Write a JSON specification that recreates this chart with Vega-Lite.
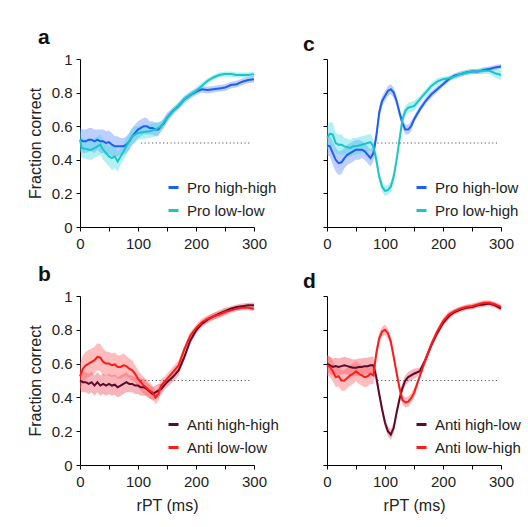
{
  "$schema": "https://vega.github.io/schema/vega-lite/v6.json",
  "padding": {"left": 27, "top": 27, "right": 5, "bottom": 5},
  "background": "white",
  "config": {
    "font": "Liberation Sans",
    "view": {"stroke": null},
    "axis": {"grid": false, "domainColor": "#000", "tickColor": "#000", "tickSize": 4, "labelOverlap": false, "labelFont": "Liberation Sans", "labelFontSize": 15, "labelColor": "#222", "titleFont": "Liberation Sans", "titleFontSize": 16, "titleFontWeight": "normal", "titleColor": "#222"},
    "axisX": {"labelPadding": 5, "titlePadding": 8},
    "axisY": {"labelPadding": 4, "titlePadding": 8},
    "legend": {"labelFont": "Liberation Sans", "labelFontSize": 15, "labelColor": "#222"},
    "title": {"font": "Liberation Sans", "fontSize": 21, "fontWeight": "bold", "color": "#111", "anchor": "start", "frame": "group"}
  },
  "datasets": {
    "curves": [
      {"p":"a","s":"Pro high-high","t":0,"y":0.52,"e":0.07},{"p":"a","s":"Pro high-high","t":5,"y":0.51,"e":0.07},{"p":"a","s":"Pro high-high","t":10,"y":0.51,"e":0.07},{"p":"a","s":"Pro high-high","t":15,"y":0.52,"e":0.07},{"p":"a","s":"Pro high-high","t":20,"y":0.52,"e":0.07},{"p":"a","s":"Pro high-high","t":25,"y":0.51,"e":0.07},{"p":"a","s":"Pro high-high","t":30,"y":0.52,"e":0.06},{"p":"a","s":"Pro high-high","t":35,"y":0.51,"e":0.07},{"p":"a","s":"Pro high-high","t":40,"y":0.51,"e":0.07},{"p":"a","s":"Pro high-high","t":45,"y":0.5,"e":0.07},{"p":"a","s":"Pro high-high","t":50,"y":0.505,"e":0.07},{"p":"a","s":"Pro high-high","t":55,"y":0.49,"e":0.07},{"p":"a","s":"Pro high-high","t":60,"y":0.48,"e":0.06},{"p":"a","s":"Pro high-high","t":65,"y":0.48,"e":0.06},{"p":"a","s":"Pro high-high","t":70,"y":0.48,"e":0.05},{"p":"a","s":"Pro high-high","t":75,"y":0.48,"e":0.05},{"p":"a","s":"Pro high-high","t":80,"y":0.49,"e":0.05},{"p":"a","s":"Pro high-high","t":85,"y":0.51,"e":0.05},{"p":"a","s":"Pro high-high","t":90,"y":0.54,"e":0.05},{"p":"a","s":"Pro high-high","t":95,"y":0.56,"e":0.05},{"p":"a","s":"Pro high-high","t":100,"y":0.58,"e":0.05},{"p":"a","s":"Pro high-high","t":105,"y":0.59,"e":0.05},{"p":"a","s":"Pro high-high","t":110,"y":0.6,"e":0.05},{"p":"a","s":"Pro high-high","t":115,"y":0.6,"e":0.05},{"p":"a","s":"Pro high-high","t":120,"y":0.59,"e":0.04},{"p":"a","s":"Pro high-high","t":125,"y":0.59,"e":0.04},{"p":"a","s":"Pro high-high","t":130,"y":0.58,"e":0.04},{"p":"a","s":"Pro high-high","t":135,"y":0.58,"e":0.04},{"p":"a","s":"Pro high-high","t":140,"y":0.6,"e":0.03},{"p":"a","s":"Pro high-high","t":145,"y":0.62,"e":0.03},{"p":"a","s":"Pro high-high","t":150,"y":0.65,"e":0.03},{"p":"a","s":"Pro high-high","t":160,"y":0.69,"e":0.02},{"p":"a","s":"Pro high-high","t":170,"y":0.72,"e":0.02},{"p":"a","s":"Pro high-high","t":180,"y":0.76,"e":0.02},{"p":"a","s":"Pro high-high","t":190,"y":0.785,"e":0.02},{"p":"a","s":"Pro high-high","t":200,"y":0.805,"e":0.02},{"p":"a","s":"Pro high-high","t":210,"y":0.82,"e":0.02},{"p":"a","s":"Pro high-high","t":220,"y":0.815,"e":0.02},{"p":"a","s":"Pro high-high","t":230,"y":0.82,"e":0.02},{"p":"a","s":"Pro high-high","t":240,"y":0.825,"e":0.02},{"p":"a","s":"Pro high-high","t":250,"y":0.83,"e":0.02},{"p":"a","s":"Pro high-high","t":260,"y":0.845,"e":0.02},{"p":"a","s":"Pro high-high","t":270,"y":0.85,"e":0.02},{"p":"a","s":"Pro high-high","t":280,"y":0.865,"e":0.02},{"p":"a","s":"Pro high-high","t":290,"y":0.875,"e":0.02},{"p":"a","s":"Pro high-high","t":300,"y":0.88,"e":0.02},

      {"p":"a","s":"Pro low-low","t":0,"y":0.52,"e":0.06},{"p":"a","s":"Pro low-low","t":3,"y":0.47,"e":0.06},{"p":"a","s":"Pro low-low","t":10,"y":0.465,"e":0.06},{"p":"a","s":"Pro low-low","t":15,"y":0.46,"e":0.06},{"p":"a","s":"Pro low-low","t":20,"y":0.46,"e":0.06},{"p":"a","s":"Pro low-low","t":25,"y":0.47,"e":0.06},{"p":"a","s":"Pro low-low","t":30,"y":0.48,"e":0.06},{"p":"a","s":"Pro low-low","t":35,"y":0.49,"e":0.06},{"p":"a","s":"Pro low-low","t":40,"y":0.46,"e":0.06},{"p":"a","s":"Pro low-low","t":45,"y":0.44,"e":0.06},{"p":"a","s":"Pro low-low","t":50,"y":0.42,"e":0.06},{"p":"a","s":"Pro low-low","t":55,"y":0.41,"e":0.07},{"p":"a","s":"Pro low-low","t":60,"y":0.42,"e":0.07},{"p":"a","s":"Pro low-low","t":65,"y":0.39,"e":0.06},{"p":"a","s":"Pro low-low","t":70,"y":0.42,"e":0.05},{"p":"a","s":"Pro low-low","t":75,"y":0.45,"e":0.05},{"p":"a","s":"Pro low-low","t":80,"y":0.48,"e":0.05},{"p":"a","s":"Pro low-low","t":85,"y":0.51,"e":0.05},{"p":"a","s":"Pro low-low","t":90,"y":0.54,"e":0.05},{"p":"a","s":"Pro low-low","t":95,"y":0.55,"e":0.05},{"p":"a","s":"Pro low-low","t":100,"y":0.56,"e":0.04},{"p":"a","s":"Pro low-low","t":110,"y":0.565,"e":0.04},{"p":"a","s":"Pro low-low","t":120,"y":0.57,"e":0.04},{"p":"a","s":"Pro low-low","t":130,"y":0.58,"e":0.04},{"p":"a","s":"Pro low-low","t":140,"y":0.6,"e":0.03},{"p":"a","s":"Pro low-low","t":150,"y":0.65,"e":0.02},{"p":"a","s":"Pro low-low","t":160,"y":0.69,"e":0.02},{"p":"a","s":"Pro low-low","t":170,"y":0.725,"e":0.02},{"p":"a","s":"Pro low-low","t":180,"y":0.76,"e":0.02},{"p":"a","s":"Pro low-low","t":190,"y":0.785,"e":0.02},{"p":"a","s":"Pro low-low","t":200,"y":0.81,"e":0.02},{"p":"a","s":"Pro low-low","t":210,"y":0.84,"e":0.02},{"p":"a","s":"Pro low-low","t":220,"y":0.87,"e":0.015},{"p":"a","s":"Pro low-low","t":230,"y":0.89,"e":0.015},{"p":"a","s":"Pro low-low","t":240,"y":0.905,"e":0.015},{"p":"a","s":"Pro low-low","t":250,"y":0.91,"e":0.015},{"p":"a","s":"Pro low-low","t":260,"y":0.91,"e":0.015},{"p":"a","s":"Pro low-low","t":270,"y":0.905,"e":0.015},{"p":"a","s":"Pro low-low","t":280,"y":0.905,"e":0.015},{"p":"a","s":"Pro low-low","t":290,"y":0.905,"e":0.015},{"p":"a","s":"Pro low-low","t":300,"y":0.91,"e":0.015},

      {"p":"c","s":"Pro high-low","t":0,"y":0.485,"e":0.06},{"p":"c","s":"Pro high-low","t":5,"y":0.48,"e":0.06},{"p":"c","s":"Pro high-low","t":10,"y":0.44,"e":0.07},{"p":"c","s":"Pro high-low","t":15,"y":0.4,"e":0.07},{"p":"c","s":"Pro high-low","t":20,"y":0.38,"e":0.07},{"p":"c","s":"Pro high-low","t":25,"y":0.385,"e":0.07},{"p":"c","s":"Pro high-low","t":30,"y":0.41,"e":0.06},{"p":"c","s":"Pro high-low","t":35,"y":0.43,"e":0.06},{"p":"c","s":"Pro high-low","t":40,"y":0.44,"e":0.06},{"p":"c","s":"Pro high-low","t":45,"y":0.45,"e":0.06},{"p":"c","s":"Pro high-low","t":50,"y":0.46,"e":0.06},{"p":"c","s":"Pro high-low","t":55,"y":0.46,"e":0.06},{"p":"c","s":"Pro high-low","t":60,"y":0.46,"e":0.05},{"p":"c","s":"Pro high-low","t":65,"y":0.45,"e":0.05},{"p":"c","s":"Pro high-low","t":70,"y":0.43,"e":0.05},{"p":"c","s":"Pro high-low","t":75,"y":0.41,"e":0.05},{"p":"c","s":"Pro high-low","t":80,"y":0.44,"e":0.05},{"p":"c","s":"Pro high-low","t":85,"y":0.54,"e":0.04},{"p":"c","s":"Pro high-low","t":90,"y":0.68,"e":0.04},{"p":"c","s":"Pro high-low","t":95,"y":0.75,"e":0.03},{"p":"c","s":"Pro high-low","t":100,"y":0.78,"e":0.03},{"p":"c","s":"Pro high-low","t":105,"y":0.81,"e":0.03},{"p":"c","s":"Pro high-low","t":110,"y":0.82,"e":0.03},{"p":"c","s":"Pro high-low","t":115,"y":0.8,"e":0.03},{"p":"c","s":"Pro high-low","t":120,"y":0.75,"e":0.03},{"p":"c","s":"Pro high-low","t":125,"y":0.68,"e":0.03},{"p":"c","s":"Pro high-low","t":130,"y":0.62,"e":0.03},{"p":"c","s":"Pro high-low","t":135,"y":0.58,"e":0.03},{"p":"c","s":"Pro high-low","t":140,"y":0.58,"e":0.03},{"p":"c","s":"Pro high-low","t":145,"y":0.6,"e":0.03},{"p":"c","s":"Pro high-low","t":150,"y":0.64,"e":0.02},{"p":"c","s":"Pro high-low","t":160,"y":0.7,"e":0.02},{"p":"c","s":"Pro high-low","t":170,"y":0.75,"e":0.02},{"p":"c","s":"Pro high-low","t":180,"y":0.79,"e":0.02},{"p":"c","s":"Pro high-low","t":190,"y":0.82,"e":0.02},{"p":"c","s":"Pro high-low","t":200,"y":0.85,"e":0.015},{"p":"c","s":"Pro high-low","t":210,"y":0.88,"e":0.015},{"p":"c","s":"Pro high-low","t":220,"y":0.9,"e":0.015},{"p":"c","s":"Pro high-low","t":230,"y":0.91,"e":0.015},{"p":"c","s":"Pro high-low","t":240,"y":0.92,"e":0.015},{"p":"c","s":"Pro high-low","t":250,"y":0.925,"e":0.015},{"p":"c","s":"Pro high-low","t":260,"y":0.925,"e":0.015},{"p":"c","s":"Pro high-low","t":270,"y":0.935,"e":0.015},{"p":"c","s":"Pro high-low","t":280,"y":0.94,"e":0.015},{"p":"c","s":"Pro high-low","t":290,"y":0.95,"e":0.015},{"p":"c","s":"Pro high-low","t":300,"y":0.955,"e":0.015},

      {"p":"c","s":"Pro low-high","t":0,"y":0.53,"e":0.07},{"p":"c","s":"Pro low-high","t":5,"y":0.555,"e":0.07},{"p":"c","s":"Pro low-high","t":10,"y":0.55,"e":0.07},{"p":"c","s":"Pro low-high","t":15,"y":0.5,"e":0.06},{"p":"c","s":"Pro low-high","t":20,"y":0.49,"e":0.06},{"p":"c","s":"Pro low-high","t":25,"y":0.49,"e":0.06},{"p":"c","s":"Pro low-high","t":30,"y":0.48,"e":0.05},{"p":"c","s":"Pro low-high","t":35,"y":0.475,"e":0.05},{"p":"c","s":"Pro low-high","t":40,"y":0.47,"e":0.05},{"p":"c","s":"Pro low-high","t":45,"y":0.48,"e":0.05},{"p":"c","s":"Pro low-high","t":50,"y":0.48,"e":0.05},{"p":"c","s":"Pro low-high","t":55,"y":0.485,"e":0.05},{"p":"c","s":"Pro low-high","t":60,"y":0.49,"e":0.05},{"p":"c","s":"Pro low-high","t":65,"y":0.495,"e":0.05},{"p":"c","s":"Pro low-high","t":70,"y":0.5,"e":0.05},{"p":"c","s":"Pro low-high","t":75,"y":0.505,"e":0.05},{"p":"c","s":"Pro low-high","t":80,"y":0.48,"e":0.04},{"p":"c","s":"Pro low-high","t":85,"y":0.4,"e":0.04},{"p":"c","s":"Pro low-high","t":90,"y":0.3,"e":0.03},{"p":"c","s":"Pro low-high","t":95,"y":0.24,"e":0.03},{"p":"c","s":"Pro low-high","t":100,"y":0.215,"e":0.03},{"p":"c","s":"Pro low-high","t":105,"y":0.22,"e":0.03},{"p":"c","s":"Pro low-high","t":110,"y":0.24,"e":0.03},{"p":"c","s":"Pro low-high","t":115,"y":0.3,"e":0.03},{"p":"c","s":"Pro low-high","t":120,"y":0.4,"e":0.03},{"p":"c","s":"Pro low-high","t":125,"y":0.52,"e":0.03},{"p":"c","s":"Pro low-high","t":130,"y":0.64,"e":0.03},{"p":"c","s":"Pro low-high","t":135,"y":0.69,"e":0.03},{"p":"c","s":"Pro low-high","t":140,"y":0.71,"e":0.03},{"p":"c","s":"Pro low-high","t":145,"y":0.715,"e":0.03},{"p":"c","s":"Pro low-high","t":150,"y":0.72,"e":0.03},{"p":"c","s":"Pro low-high","t":160,"y":0.76,"e":0.02},{"p":"c","s":"Pro low-high","t":170,"y":0.8,"e":0.02},{"p":"c","s":"Pro low-high","t":180,"y":0.84,"e":0.02},{"p":"c","s":"Pro low-high","t":190,"y":0.865,"e":0.02},{"p":"c","s":"Pro low-high","t":200,"y":0.88,"e":0.015},{"p":"c","s":"Pro low-high","t":210,"y":0.885,"e":0.015},{"p":"c","s":"Pro low-high","t":220,"y":0.895,"e":0.015},{"p":"c","s":"Pro low-high","t":230,"y":0.91,"e":0.015},{"p":"c","s":"Pro low-high","t":240,"y":0.92,"e":0.015},{"p":"c","s":"Pro low-high","t":250,"y":0.925,"e":0.015},{"p":"c","s":"Pro low-high","t":260,"y":0.925,"e":0.015},{"p":"c","s":"Pro low-high","t":270,"y":0.93,"e":0.02},{"p":"c","s":"Pro low-high","t":280,"y":0.93,"e":0.02},{"p":"c","s":"Pro low-high","t":290,"y":0.915,"e":0.025},{"p":"c","s":"Pro low-high","t":300,"y":0.905,"e":0.03},

      {"p":"b","s":"Anti high-high","t":0,"y":0.5,"e":0.06},{"p":"b","s":"Anti high-high","t":5,"y":0.49,"e":0.06},{"p":"b","s":"Anti high-high","t":10,"y":0.49,"e":0.06},{"p":"b","s":"Anti high-high","t":15,"y":0.48,"e":0.06},{"p":"b","s":"Anti high-high","t":20,"y":0.49,"e":0.06},{"p":"b","s":"Anti high-high","t":25,"y":0.47,"e":0.06},{"p":"b","s":"Anti high-high","t":30,"y":0.49,"e":0.06},{"p":"b","s":"Anti high-high","t":35,"y":0.47,"e":0.06},{"p":"b","s":"Anti high-high","t":40,"y":0.48,"e":0.06},{"p":"b","s":"Anti high-high","t":45,"y":0.47,"e":0.06},{"p":"b","s":"Anti high-high","t":50,"y":0.48,"e":0.06},{"p":"b","s":"Anti high-high","t":55,"y":0.47,"e":0.06},{"p":"b","s":"Anti high-high","t":60,"y":0.475,"e":0.06},{"p":"b","s":"Anti high-high","t":65,"y":0.46,"e":0.06},{"p":"b","s":"Anti high-high","t":70,"y":0.47,"e":0.06},{"p":"b","s":"Anti high-high","t":75,"y":0.48,"e":0.06},{"p":"b","s":"Anti high-high","t":80,"y":0.49,"e":0.06},{"p":"b","s":"Anti high-high","t":85,"y":0.48,"e":0.05},{"p":"b","s":"Anti high-high","t":90,"y":0.48,"e":0.05},{"p":"b","s":"Anti high-high","t":95,"y":0.47,"e":0.05},{"p":"b","s":"Anti high-high","t":100,"y":0.47,"e":0.05},{"p":"b","s":"Anti high-high","t":105,"y":0.46,"e":0.05},{"p":"b","s":"Anti high-high","t":110,"y":0.46,"e":0.05},{"p":"b","s":"Anti high-high","t":115,"y":0.45,"e":0.04},{"p":"b","s":"Anti high-high","t":120,"y":0.435,"e":0.04},{"p":"b","s":"Anti high-high","t":125,"y":0.42,"e":0.04},{"p":"b","s":"Anti high-high","t":130,"y":0.43,"e":0.04},{"p":"b","s":"Anti high-high","t":135,"y":0.44,"e":0.04},{"p":"b","s":"Anti high-high","t":140,"y":0.45,"e":0.03},{"p":"b","s":"Anti high-high","t":150,"y":0.49,"e":0.03},{"p":"b","s":"Anti high-high","t":160,"y":0.52,"e":0.03},{"p":"b","s":"Anti high-high","t":170,"y":0.56,"e":0.03},{"p":"b","s":"Anti high-high","t":180,"y":0.64,"e":0.02},{"p":"b","s":"Anti high-high","t":190,"y":0.735,"e":0.02},{"p":"b","s":"Anti high-high","t":200,"y":0.795,"e":0.02},{"p":"b","s":"Anti high-high","t":210,"y":0.835,"e":0.02},{"p":"b","s":"Anti high-high","t":220,"y":0.86,"e":0.02},{"p":"b","s":"Anti high-high","t":230,"y":0.88,"e":0.02},{"p":"b","s":"Anti high-high","t":240,"y":0.895,"e":0.02},{"p":"b","s":"Anti high-high","t":250,"y":0.91,"e":0.02},{"p":"b","s":"Anti high-high","t":260,"y":0.925,"e":0.015},{"p":"b","s":"Anti high-high","t":270,"y":0.935,"e":0.015},{"p":"b","s":"Anti high-high","t":280,"y":0.94,"e":0.015},{"p":"b","s":"Anti high-high","t":290,"y":0.945,"e":0.015},{"p":"b","s":"Anti high-high","t":300,"y":0.945,"e":0.015},

      {"p":"b","s":"Anti low-low","t":0,"y":0.525,"e":0.08},{"p":"b","s":"Anti low-low","t":5,"y":0.57,"e":0.08},{"p":"b","s":"Anti low-low","t":10,"y":0.59,"e":0.08},{"p":"b","s":"Anti low-low","t":15,"y":0.6,"e":0.08},{"p":"b","s":"Anti low-low","t":20,"y":0.61,"e":0.08},{"p":"b","s":"Anti low-low","t":25,"y":0.62,"e":0.08},{"p":"b","s":"Anti low-low","t":30,"y":0.64,"e":0.08},{"p":"b","s":"Anti low-low","t":35,"y":0.635,"e":0.08},{"p":"b","s":"Anti low-low","t":40,"y":0.61,"e":0.08},{"p":"b","s":"Anti low-low","t":45,"y":0.6,"e":0.07},{"p":"b","s":"Anti low-low","t":50,"y":0.6,"e":0.07},{"p":"b","s":"Anti low-low","t":55,"y":0.59,"e":0.07},{"p":"b","s":"Anti low-low","t":60,"y":0.595,"e":0.07},{"p":"b","s":"Anti low-low","t":65,"y":0.58,"e":0.07},{"p":"b","s":"Anti low-low","t":70,"y":0.58,"e":0.07},{"p":"b","s":"Anti low-low","t":75,"y":0.59,"e":0.07},{"p":"b","s":"Anti low-low","t":80,"y":0.585,"e":0.06},{"p":"b","s":"Anti low-low","t":85,"y":0.57,"e":0.06},{"p":"b","s":"Anti low-low","t":90,"y":0.56,"e":0.06},{"p":"b","s":"Anti low-low","t":95,"y":0.54,"e":0.05},{"p":"b","s":"Anti low-low","t":100,"y":0.51,"e":0.05},{"p":"b","s":"Anti low-low","t":105,"y":0.49,"e":0.05},{"p":"b","s":"Anti low-low","t":110,"y":0.47,"e":0.05},{"p":"b","s":"Anti low-low","t":115,"y":0.455,"e":0.05},{"p":"b","s":"Anti low-low","t":120,"y":0.44,"e":0.05},{"p":"b","s":"Anti low-low","t":125,"y":0.43,"e":0.04},{"p":"b","s":"Anti low-low","t":130,"y":0.4,"e":0.04},{"p":"b","s":"Anti low-low","t":135,"y":0.42,"e":0.04},{"p":"b","s":"Anti low-low","t":140,"y":0.47,"e":0.04},{"p":"b","s":"Anti low-low","t":145,"y":0.49,"e":0.03},{"p":"b","s":"Anti low-low","t":150,"y":0.51,"e":0.03},{"p":"b","s":"Anti low-low","t":160,"y":0.55,"e":0.03},{"p":"b","s":"Anti low-low","t":170,"y":0.59,"e":0.03},{"p":"b","s":"Anti low-low","t":180,"y":0.685,"e":0.02},{"p":"b","s":"Anti low-low","t":190,"y":0.765,"e":0.02},{"p":"b","s":"Anti low-low","t":200,"y":0.81,"e":0.02},{"p":"b","s":"Anti low-low","t":210,"y":0.845,"e":0.02},{"p":"b","s":"Anti low-low","t":220,"y":0.865,"e":0.02},{"p":"b","s":"Anti low-low","t":230,"y":0.88,"e":0.02},{"p":"b","s":"Anti low-low","t":240,"y":0.89,"e":0.02},{"p":"b","s":"Anti low-low","t":250,"y":0.905,"e":0.02},{"p":"b","s":"Anti low-low","t":260,"y":0.915,"e":0.015},{"p":"b","s":"Anti low-low","t":270,"y":0.925,"e":0.015},{"p":"b","s":"Anti low-low","t":280,"y":0.93,"e":0.015},{"p":"b","s":"Anti low-low","t":290,"y":0.93,"e":0.015},{"p":"b","s":"Anti low-low","t":300,"y":0.925,"e":0.015},

      {"p":"d","s":"Anti high-low","t":0,"y":0.6,"e":0.05},{"p":"d","s":"Anti high-low","t":5,"y":0.59,"e":0.05},{"p":"d","s":"Anti high-low","t":10,"y":0.58,"e":0.05},{"p":"d","s":"Anti high-low","t":15,"y":0.585,"e":0.05},{"p":"d","s":"Anti high-low","t":20,"y":0.58,"e":0.05},{"p":"d","s":"Anti high-low","t":25,"y":0.585,"e":0.05},{"p":"d","s":"Anti high-low","t":30,"y":0.59,"e":0.05},{"p":"d","s":"Anti high-low","t":35,"y":0.585,"e":0.05},{"p":"d","s":"Anti high-low","t":40,"y":0.58,"e":0.05},{"p":"d","s":"Anti high-low","t":45,"y":0.575,"e":0.05},{"p":"d","s":"Anti high-low","t":50,"y":0.575,"e":0.05},{"p":"d","s":"Anti high-low","t":55,"y":0.58,"e":0.05},{"p":"d","s":"Anti high-low","t":60,"y":0.58,"e":0.05},{"p":"d","s":"Anti high-low","t":65,"y":0.585,"e":0.05},{"p":"d","s":"Anti high-low","t":70,"y":0.585,"e":0.05},{"p":"d","s":"Anti high-low","t":75,"y":0.59,"e":0.05},{"p":"d","s":"Anti high-low","t":80,"y":0.59,"e":0.05},{"p":"d","s":"Anti high-low","t":85,"y":0.52,"e":0.04},{"p":"d","s":"Anti high-low","t":90,"y":0.42,"e":0.03},{"p":"d","s":"Anti high-low","t":95,"y":0.33,"e":0.03},{"p":"d","s":"Anti high-low","t":100,"y":0.25,"e":0.03},{"p":"d","s":"Anti high-low","t":105,"y":0.2,"e":0.03},{"p":"d","s":"Anti high-low","t":110,"y":0.18,"e":0.03},{"p":"d","s":"Anti high-low","t":115,"y":0.22,"e":0.03},{"p":"d","s":"Anti high-low","t":120,"y":0.31,"e":0.03},{"p":"d","s":"Anti high-low","t":125,"y":0.39,"e":0.03},{"p":"d","s":"Anti high-low","t":130,"y":0.455,"e":0.03},{"p":"d","s":"Anti high-low","t":135,"y":0.5,"e":0.03},{"p":"d","s":"Anti high-low","t":140,"y":0.52,"e":0.03},{"p":"d","s":"Anti high-low","t":150,"y":0.54,"e":0.03},{"p":"d","s":"Anti high-low","t":160,"y":0.555,"e":0.02},{"p":"d","s":"Anti high-low","t":170,"y":0.625,"e":0.02},{"p":"d","s":"Anti high-low","t":180,"y":0.71,"e":0.02},{"p":"d","s":"Anti high-low","t":190,"y":0.78,"e":0.02},{"p":"d","s":"Anti high-low","t":200,"y":0.84,"e":0.02},{"p":"d","s":"Anti high-low","t":210,"y":0.88,"e":0.02},{"p":"d","s":"Anti high-low","t":220,"y":0.905,"e":0.015},{"p":"d","s":"Anti high-low","t":230,"y":0.92,"e":0.015},{"p":"d","s":"Anti high-low","t":240,"y":0.93,"e":0.015},{"p":"d","s":"Anti high-low","t":250,"y":0.935,"e":0.015},{"p":"d","s":"Anti high-low","t":260,"y":0.945,"e":0.015},{"p":"d","s":"Anti high-low","t":270,"y":0.95,"e":0.015},{"p":"d","s":"Anti high-low","t":280,"y":0.955,"e":0.015},{"p":"d","s":"Anti high-low","t":290,"y":0.945,"e":0.015},{"p":"d","s":"Anti high-low","t":300,"y":0.925,"e":0.015},

      {"p":"d","s":"Anti low-high","t":0,"y":0.59,"e":0.06},{"p":"d","s":"Anti low-high","t":5,"y":0.58,"e":0.06},{"p":"d","s":"Anti low-high","t":10,"y":0.555,"e":0.06},{"p":"d","s":"Anti low-high","t":15,"y":0.52,"e":0.06},{"p":"d","s":"Anti low-high","t":20,"y":0.525,"e":0.06},{"p":"d","s":"Anti low-high","t":25,"y":0.5,"e":0.06},{"p":"d","s":"Anti low-high","t":30,"y":0.5,"e":0.06},{"p":"d","s":"Anti low-high","t":35,"y":0.515,"e":0.06},{"p":"d","s":"Anti low-high","t":40,"y":0.53,"e":0.06},{"p":"d","s":"Anti low-high","t":45,"y":0.54,"e":0.06},{"p":"d","s":"Anti low-high","t":50,"y":0.555,"e":0.06},{"p":"d","s":"Anti low-high","t":55,"y":0.54,"e":0.06},{"p":"d","s":"Anti low-high","t":60,"y":0.53,"e":0.06},{"p":"d","s":"Anti low-high","t":65,"y":0.52,"e":0.06},{"p":"d","s":"Anti low-high","t":70,"y":0.525,"e":0.06},{"p":"d","s":"Anti low-high","t":75,"y":0.54,"e":0.06},{"p":"d","s":"Anti low-high","t":80,"y":0.53,"e":0.05},{"p":"d","s":"Anti low-high","t":85,"y":0.66,"e":0.04},{"p":"d","s":"Anti low-high","t":90,"y":0.75,"e":0.03},{"p":"d","s":"Anti low-high","t":95,"y":0.79,"e":0.03},{"p":"d","s":"Anti low-high","t":100,"y":0.8,"e":0.03},{"p":"d","s":"Anti low-high","t":105,"y":0.78,"e":0.03},{"p":"d","s":"Anti low-high","t":110,"y":0.73,"e":0.03},{"p":"d","s":"Anti low-high","t":115,"y":0.64,"e":0.03},{"p":"d","s":"Anti low-high","t":120,"y":0.545,"e":0.03},{"p":"d","s":"Anti low-high","t":125,"y":0.455,"e":0.03},{"p":"d","s":"Anti low-high","t":130,"y":0.385,"e":0.03},{"p":"d","s":"Anti low-high","t":135,"y":0.37,"e":0.03},{"p":"d","s":"Anti low-high","t":140,"y":0.375,"e":0.03},{"p":"d","s":"Anti low-high","t":145,"y":0.395,"e":0.03},{"p":"d","s":"Anti low-high","t":150,"y":0.425,"e":0.03},{"p":"d","s":"Anti low-high","t":160,"y":0.525,"e":0.02},{"p":"d","s":"Anti low-high","t":170,"y":0.625,"e":0.02},{"p":"d","s":"Anti low-high","t":180,"y":0.715,"e":0.02},{"p":"d","s":"Anti low-high","t":190,"y":0.79,"e":0.02},{"p":"d","s":"Anti low-high","t":200,"y":0.85,"e":0.02},{"p":"d","s":"Anti low-high","t":210,"y":0.89,"e":0.02},{"p":"d","s":"Anti low-high","t":220,"y":0.91,"e":0.015},{"p":"d","s":"Anti low-high","t":230,"y":0.925,"e":0.015},{"p":"d","s":"Anti low-high","t":240,"y":0.935,"e":0.015},{"p":"d","s":"Anti low-high","t":250,"y":0.94,"e":0.015},{"p":"d","s":"Anti low-high","t":260,"y":0.95,"e":0.015},{"p":"d","s":"Anti low-high","t":270,"y":0.96,"e":0.015},{"p":"d","s":"Anti low-high","t":280,"y":0.96,"e":0.015},{"p":"d","s":"Anti low-high","t":290,"y":0.95,"e":0.015},{"p":"d","s":"Anti low-high","t":300,"y":0.935,"e":0.015}
    ],
    "ref": [
      {"p":"a","t0":105,"t1":295,"y":0.5},
      {"p":"b","t0":105,"t1":295,"y":0.5},
      {"p":"c","t0":87,"t1":295,"y":0.5},
      {"p":"d","t0":87,"t1":295,"y":0.5}
    ]
  },
  "columns": 2,
  "spacing": {"row": 69, "column": 73},
  "bounds": "flush",
  "resolve": {"scale": {"color": "independent", "x": "independent", "y": "independent"}},
  "concat": [
    {
      "title": {"text": "a", "dx": -42, "offset": 4},
      "width": 174, "height": 168,
      "resolve": {"scale": {"color": "independent"}},
      "layer": [
        {"data": {"name": "curves"}, "transform": [{"filter": "datum.p === 'a'"}],
         "mark": {"type": "errorband", "opacity": 0.4},
         "encoding": {
           "x": {"field": "t", "type": "quantitative", "title": null, "scale": {"domain": [0, 300], "nice": false}, "axis": {"values": [0,50,100,150,200,250,300], "labelExpr": "datum.value % 100 === 0 ? datum.label : ''", "labelFlush": false}},
           "y": {"field": "y", "type": "quantitative", "title": "Fraction correct", "scale": {"domain": [0, 1], "nice": false}, "axis": {"values": [0,0.2,0.4,0.6,0.8,1], "format": ".1~f", "labelOverlap": false}},
           "yError": {"field": "e"},
           "color": {"field": "s", "type": "nominal", "legend": null, "scale": {"domain": ["Pro high-high", "Pro low-low"], "range": ["#5a86ff", "#3ddce4"]}}
         }},
        {"data": {"name": "curves"}, "transform": [{"filter": "datum.p === 'a'"}],
         "mark": {"type": "line", "strokeWidth": 2},
         "encoding": {
           "x": {"field": "t", "type": "quantitative", "title": null, "axis": {"values": [0,50,100,150,200,250,300], "labelExpr": "datum.value % 100 === 0 ? datum.label : ''", "labelFlush": false}},
           "y": {"field": "y", "type": "quantitative", "title": "Fraction correct", "axis": {"values": [0,0.2,0.4,0.6,0.8,1], "format": ".1~f", "labelOverlap": false}},
           "color": {"field": "s", "type": "nominal", "scale": {"domain": ["Pro high-high", "Pro low-low"], "range": ["#1e5ef8", "#1cc4c4"]},
             "legend": {"title": null, "orient": "none", "legendX": 86, "legendY": 121, "symbolType": "stroke", "symbolStrokeWidth": 3, "symbolSize": 100, "rowPadding": 7, "labelOffset": 6}}
         }},
        {"data": {"name": "ref"}, "transform": [{"filter": "datum.p === 'a'"}],
         "mark": {"type": "rule", "strokeDash": [1.2, 2.5], "color": "#555", "strokeWidth": 1},
         "encoding": {"x": {"field": "t0", "type": "quantitative", "title": null, "axis": {"values": [0,50,100,150,200,250,300], "labelExpr": "datum.value % 100 === 0 ? datum.label : ''", "labelFlush": false}}, "x2": {"field": "t1"}, "y": {"field": "y", "type": "quantitative", "title": "Fraction correct", "axis": {"values": [0,0.2,0.4,0.6,0.8,1], "format": ".1~f", "labelOverlap": false}}}}
      ]
    },
    {
      "title": {"text": "c", "dx": -24, "offset": 4},
      "width": 174, "height": 168,
      "resolve": {"scale": {"color": "independent"}},
      "layer": [
        {"data": {"name": "curves"}, "transform": [{"filter": "datum.p === 'c'"}],
         "mark": {"type": "errorband", "opacity": 0.4},
         "encoding": {
           "x": {"field": "t", "type": "quantitative", "title": null, "scale": {"domain": [0, 300], "nice": false}, "axis": {"values": [0,50,100,150,200,250,300], "labelExpr": "datum.value % 100 === 0 ? datum.label : ''", "labelFlush": false}},
           "y": {"field": "y", "type": "quantitative", "title": null, "scale": {"domain": [0, 1], "nice": false}, "axis": {"values": [0,0.2,0.4,0.6,0.8,1], "labels": false}},
           "yError": {"field": "e"},
           "color": {"field": "s", "type": "nominal", "legend": null, "scale": {"domain": ["Pro high-low", "Pro low-high"], "range": ["#5a86ff", "#3ddce4"]}}
         }},
        {"data": {"name": "curves"}, "transform": [{"filter": "datum.p === 'c'"}],
         "mark": {"type": "line", "strokeWidth": 2},
         "encoding": {
           "x": {"field": "t", "type": "quantitative", "title": null, "axis": {"values": [0,50,100,150,200,250,300], "labelExpr": "datum.value % 100 === 0 ? datum.label : ''", "labelFlush": false}},
           "y": {"field": "y", "type": "quantitative", "title": null, "axis": {"values": [0,0.2,0.4,0.6,0.8,1], "labels": false}},
           "color": {"field": "s", "type": "nominal", "scale": {"domain": ["Pro high-low", "Pro low-high"], "range": ["#1e5ef8", "#1cc4c4"]},
             "legend": {"title": null, "orient": "none", "legendX": 87, "legendY": 121, "symbolType": "stroke", "symbolStrokeWidth": 3, "symbolSize": 100, "rowPadding": 7, "labelOffset": 6}}
         }},
        {"data": {"name": "ref"}, "transform": [{"filter": "datum.p === 'c'"}],
         "mark": {"type": "rule", "strokeDash": [1.2, 2.5], "color": "#555", "strokeWidth": 1},
         "encoding": {"x": {"field": "t0", "type": "quantitative", "title": null, "axis": {"values": [0,50,100,150,200,250,300], "labelExpr": "datum.value % 100 === 0 ? datum.label : ''", "labelFlush": false}}, "x2": {"field": "t1"}, "y": {"field": "y", "type": "quantitative", "title": null, "axis": {"values": [0,0.2,0.4,0.6,0.8,1], "labels": false}}}}
      ]
    },
    {
      "title": {"text": "b", "dx": -42, "offset": 4},
      "width": 174, "height": 169,
      "resolve": {"scale": {"color": "independent"}},
      "layer": [
        {"data": {"name": "curves"}, "transform": [{"filter": "datum.p === 'b'"}],
         "mark": {"type": "errorband", "opacity": 0.4},
         "encoding": {
           "x": {"field": "t", "type": "quantitative", "title": "rPT (ms)", "scale": {"domain": [0, 300], "nice": false}, "axis": {"values": [0,50,100,150,200,250,300], "labelExpr": "datum.value % 100 === 0 ? datum.label : ''", "labelFlush": false}},
           "y": {"field": "y", "type": "quantitative", "title": "Fraction correct", "scale": {"domain": [0, 1], "nice": false}, "axis": {"values": [0,0.2,0.4,0.6,0.8,1], "format": ".1~f", "labelOverlap": false}},
           "yError": {"field": "e"},
           "color": {"field": "s", "type": "nominal", "legend": null, "scale": {"domain": ["Anti high-high", "Anti low-low"], "range": ["#ee4455", "#ff5a5a"]}}
         }},
        {"data": {"name": "curves"}, "transform": [{"filter": "datum.p === 'b'"}],
         "mark": {"type": "line", "strokeWidth": 2},
         "encoding": {
           "x": {"field": "t", "type": "quantitative", "title": "rPT (ms)", "axis": {"values": [0,50,100,150,200,250,300], "labelExpr": "datum.value % 100 === 0 ? datum.label : ''", "labelFlush": false}},
           "y": {"field": "y", "type": "quantitative", "title": "Fraction correct", "axis": {"values": [0,0.2,0.4,0.6,0.8,1], "format": ".1~f", "labelOverlap": false}},
           "color": {"field": "s", "type": "nominal", "scale": {"domain": ["Anti high-high", "Anti low-low"], "range": ["#5a0a2a", "#ff1a1a"]},
             "legend": {"title": null, "orient": "none", "legendX": 86, "legendY": 121, "symbolType": "stroke", "symbolStrokeWidth": 3, "symbolSize": 100, "rowPadding": 7, "labelOffset": 6}}
         }},
        {"data": {"name": "ref"}, "transform": [{"filter": "datum.p === 'b'"}],
         "mark": {"type": "rule", "strokeDash": [1.2, 2.5], "color": "#555", "strokeWidth": 1},
         "encoding": {"x": {"field": "t0", "type": "quantitative", "title": "rPT (ms)", "axis": {"values": [0,50,100,150,200,250,300], "labelExpr": "datum.value % 100 === 0 ? datum.label : ''", "labelFlush": false}}, "x2": {"field": "t1"}, "y": {"field": "y", "type": "quantitative", "title": "Fraction correct", "axis": {"values": [0,0.2,0.4,0.6,0.8,1], "format": ".1~f", "labelOverlap": false}}}}
      ]
    },
    {
      "title": {"text": "d", "dx": -24, "offset": 4},
      "width": 174, "height": 169,
      "resolve": {"scale": {"color": "independent"}},
      "layer": [
        {"data": {"name": "curves"}, "transform": [{"filter": "datum.p === 'd'"}],
         "mark": {"type": "errorband", "opacity": 0.4},
         "encoding": {
           "x": {"field": "t", "type": "quantitative", "title": "rPT (ms)", "scale": {"domain": [0, 300], "nice": false}, "axis": {"values": [0,50,100,150,200,250,300], "labelExpr": "datum.value % 100 === 0 ? datum.label : ''", "labelFlush": false}},
           "y": {"field": "y", "type": "quantitative", "title": null, "scale": {"domain": [0, 1], "nice": false}, "axis": {"values": [0,0.2,0.4,0.6,0.8,1], "labels": false}},
           "yError": {"field": "e"},
           "color": {"field": "s", "type": "nominal", "legend": null, "scale": {"domain": ["Anti high-low", "Anti low-high"], "range": ["#ee4455", "#ff5a5a"]}}
         }},
        {"data": {"name": "curves"}, "transform": [{"filter": "datum.p === 'd'"}],
         "mark": {"type": "line", "strokeWidth": 2},
         "encoding": {
           "x": {"field": "t", "type": "quantitative", "title": "rPT (ms)", "axis": {"values": [0,50,100,150,200,250,300], "labelExpr": "datum.value % 100 === 0 ? datum.label : ''", "labelFlush": false}},
           "y": {"field": "y", "type": "quantitative", "title": null, "axis": {"values": [0,0.2,0.4,0.6,0.8,1], "labels": false}},
           "color": {"field": "s", "type": "nominal", "scale": {"domain": ["Anti high-low", "Anti low-high"], "range": ["#5a0a2a", "#ff1a1a"]},
             "legend": {"title": null, "orient": "none", "legendX": 87, "legendY": 121, "symbolType": "stroke", "symbolStrokeWidth": 3, "symbolSize": 100, "rowPadding": 7, "labelOffset": 6}}
         }},
        {"data": {"name": "ref"}, "transform": [{"filter": "datum.p === 'd'"}],
         "mark": {"type": "rule", "strokeDash": [1.2, 2.5], "color": "#555", "strokeWidth": 1},
         "encoding": {"x": {"field": "t0", "type": "quantitative", "title": "rPT (ms)", "axis": {"values": [0,50,100,150,200,250,300], "labelExpr": "datum.value % 100 === 0 ? datum.label : ''", "labelFlush": false}}, "x2": {"field": "t1"}, "y": {"field": "y", "type": "quantitative", "title": null, "axis": {"values": [0,0.2,0.4,0.6,0.8,1], "labels": false}}}}
      ]
    }
  ]
}
